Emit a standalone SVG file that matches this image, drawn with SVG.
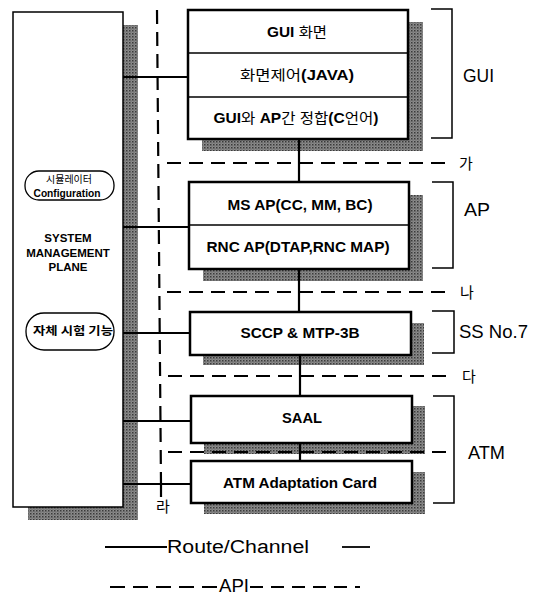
<svg xmlns="http://www.w3.org/2000/svg" width="537" height="595" viewBox="0 0 537 595">
<defs>
<pattern id="halftone" width="3" height="3" patternUnits="userSpaceOnUse">
<rect width="3" height="3" fill="#8c8c8c"/>
<rect x="0" y="0" width="1.5" height="1.5" fill="#3a3a3a"/>
<rect x="1.5" y="1.5" width="1" height="1" fill="#555"/>
</pattern>
</defs>
<style>
.box{fill:#fff;stroke:#000;stroke-width:2.5}
.shadow{fill:url(#halftone)}
.div{stroke:#000;stroke-width:1.5}
.bt{font-family:"Liberation Sans","Noto Sans CJK KR",sans-serif;font-weight:bold;font-size:14px;text-anchor:middle;fill:#000}
.ko{font-weight:normal}
.lbl{font-family:"Liberation Sans","Noto Sans CJK KR",sans-serif;font-size:18px;fill:#000}
.kl{font-family:"Noto Sans CJK KR","Liberation Sans",sans-serif;font-size:15px;fill:#000}
.smp{font-family:"Liberation Sans",sans-serif;font-weight:bold;font-size:11.5px;text-anchor:middle}
.pill{fill:#fff;stroke:#000;stroke-width:1.3}
.br{fill:none;stroke:#000;stroke-width:1.5}
.solid{stroke:#000;stroke-width:2.2;fill:none}
.dash{stroke:#000;stroke-width:2.2;stroke-dasharray:14 8;fill:none}
</style>

<g id="system-management-plane">
<rect class="shadow" x="28" y="25" width="110" height="495"/>
<rect x="13" y="12" width="110" height="495" fill="#fff" stroke="#000" stroke-width="1.5"/>
<text class="smp" x="68" y="242">SYSTEM</text>
<text class="smp" x="68" y="257">MANAGEMENT</text>
<text class="smp" x="68" y="271">PLANE</text>
</g>
<g id="simulator-config">
<rect class="pill" x="25" y="171" width="89" height="29" rx="14"/>
<text x="69" y="183" font-family="Noto Sans CJK KR,sans-serif" font-size="10" text-anchor="middle">시뮬레이터</text>
<text x="67" y="197" font-family="Liberation Sans,sans-serif" font-weight="bold" font-size="10.5" text-anchor="middle" textLength="67" lengthAdjust="spacingAndGlyphs">Configuration</text>
</g>
<g id="self-test">
<rect class="pill" x="26" y="313" width="88" height="37" rx="18"/>
<text x="33" y="335" font-family="Noto Sans CJK KR,sans-serif" font-weight="bold" font-size="11.5" textLength="80" lengthAdjust="spacingAndGlyphs">자체 시험 기능</text>
</g>

<g id="gui-block">
<rect class="shadow" x="202" y="22" width="221" height="129"/>
<rect class="box" x="188" y="10" width="220" height="129"/>
<line class="div" x1="188" y1="53" x2="408" y2="53"/>
<line class="div" x1="188" y1="97" x2="408" y2="97"/>
<text class="bt" x="297" y="37" textLength="60" lengthAdjust="spacingAndGlyphs">GUI <tspan class="ko">화면</tspan></text>
<text class="bt" x="297" y="80" textLength="114" lengthAdjust="spacingAndGlyphs"><tspan class="ko">화면제어</tspan>(JAVA)</text>
<text class="bt" x="296" y="123" textLength="165" lengthAdjust="spacingAndGlyphs">GUI<tspan class="ko">와</tspan> AP<tspan class="ko">간 정합</tspan>(C<tspan class="ko">언어</tspan>)</text>
</g>

<g id="ap-block">
<rect class="shadow" x="203" y="195" width="220" height="86"/>
<rect class="box" x="189" y="182" width="220" height="87"/>
<line class="div" x1="189" y1="225" x2="409" y2="225"/>
<text class="bt" x="300" y="210" textLength="145" lengthAdjust="spacingAndGlyphs">MS AP(CC, MM, BC)</text>
<text class="bt" x="298" y="252" textLength="183" lengthAdjust="spacingAndGlyphs">RNC AP(DTAP,RNC MAP)</text>
</g>

<g id="sccp-block">
<rect class="shadow" x="203" y="323" width="221" height="42"/>
<rect class="box" x="190" y="312" width="221" height="43"/>
<text class="bt" x="300" y="338" textLength="119" lengthAdjust="spacingAndGlyphs">SCCP &amp; MTP-3B</text>
</g>

<g id="saal-block">
<rect class="shadow" x="204" y="406" width="221" height="48"/>
<rect class="box" x="191" y="396" width="221" height="47"/>
<text class="bt" x="302" y="423" textLength="40" lengthAdjust="spacingAndGlyphs">SAAL</text>
</g>

<g id="atm-card-block">
<rect class="shadow" x="204" y="472" width="221" height="42"/>
<rect class="box" x="191" y="461" width="221" height="42"/>
<text class="bt" x="300" y="488" textLength="154" lengthAdjust="spacingAndGlyphs">ATM Adaptation Card</text>
</g>

<g id="connectors">
<line class="solid" x1="299" y1="139" x2="299" y2="182"/>
<line class="solid" x1="299" y1="269" x2="299" y2="312"/>
<line class="solid" x1="300" y1="355" x2="300" y2="396"/>
<line class="solid" x1="300" y1="443" x2="300" y2="461"/>
<line class="solid" x1="123" y1="77" x2="188" y2="77"/>
<line class="solid" x1="123" y1="227" x2="189" y2="227"/>
<line class="solid" x1="123" y1="333" x2="190" y2="333"/>
<line class="solid" x1="123" y1="421" x2="191" y2="421"/>
<line class="solid" x1="123" y1="484" x2="191" y2="484"/>
<line class="dash" x1="157" y1="10" x2="161" y2="484"/>
<line class="solid" x1="161" y1="484" x2="161" y2="497"/>
<line class="dash" x1="167" y1="163" x2="445" y2="163"/>
<line class="dash" x1="167" y1="292" x2="445" y2="292"/>
<line class="dash" x1="168" y1="376" x2="447" y2="376"/>
<line class="dash" x1="168" y1="452" x2="450" y2="452"/>
</g>

<g id="interface-labels">
<text class="kl" x="459" y="169">가</text>
<text class="kl" x="460" y="298">나</text>
<text class="kl" x="462" y="382">다</text>
<text class="kl" x="156" y="512">라</text>
</g>

<g id="layer-brackets">
<path class="br" d="M431,9 H452 V138 H431"/>
<path class="br" d="M432,182 H453 V268 H432"/>
<path class="br" d="M432,311 H454 V353 H432"/>
<path class="br" d="M433,396 H454 V503 H433"/>
<text class="lbl" x="463" y="82" textLength="31" lengthAdjust="spacingAndGlyphs">GUI</text>
<text class="lbl" x="464" y="216" textLength="26" lengthAdjust="spacingAndGlyphs">AP</text>
<text class="lbl" x="459" y="338" textLength="69" lengthAdjust="spacingAndGlyphs">SS No.7</text>
<text class="lbl" x="468" y="459" textLength="37" lengthAdjust="spacingAndGlyphs">ATM</text>
</g>

<g id="legend">
<line x1="105" y1="547" x2="167" y2="547" stroke="#000" stroke-width="1.8"/>
<text class="lbl" x="167" y="553" textLength="142" lengthAdjust="spacingAndGlyphs">Route/Channel</text>
<line x1="342" y1="547" x2="370" y2="547" stroke="#000" stroke-width="1.8"/>
<line x1="110" y1="587" x2="217" y2="587" stroke="#000" stroke-width="1.8" stroke-dasharray="15 8"/>
<text class="lbl" x="219" y="592" textLength="30" lengthAdjust="spacingAndGlyphs">API</text>
<line x1="250" y1="587" x2="360" y2="587" stroke="#000" stroke-width="1.8" stroke-dasharray="13 8"/>
</g>
</svg>
